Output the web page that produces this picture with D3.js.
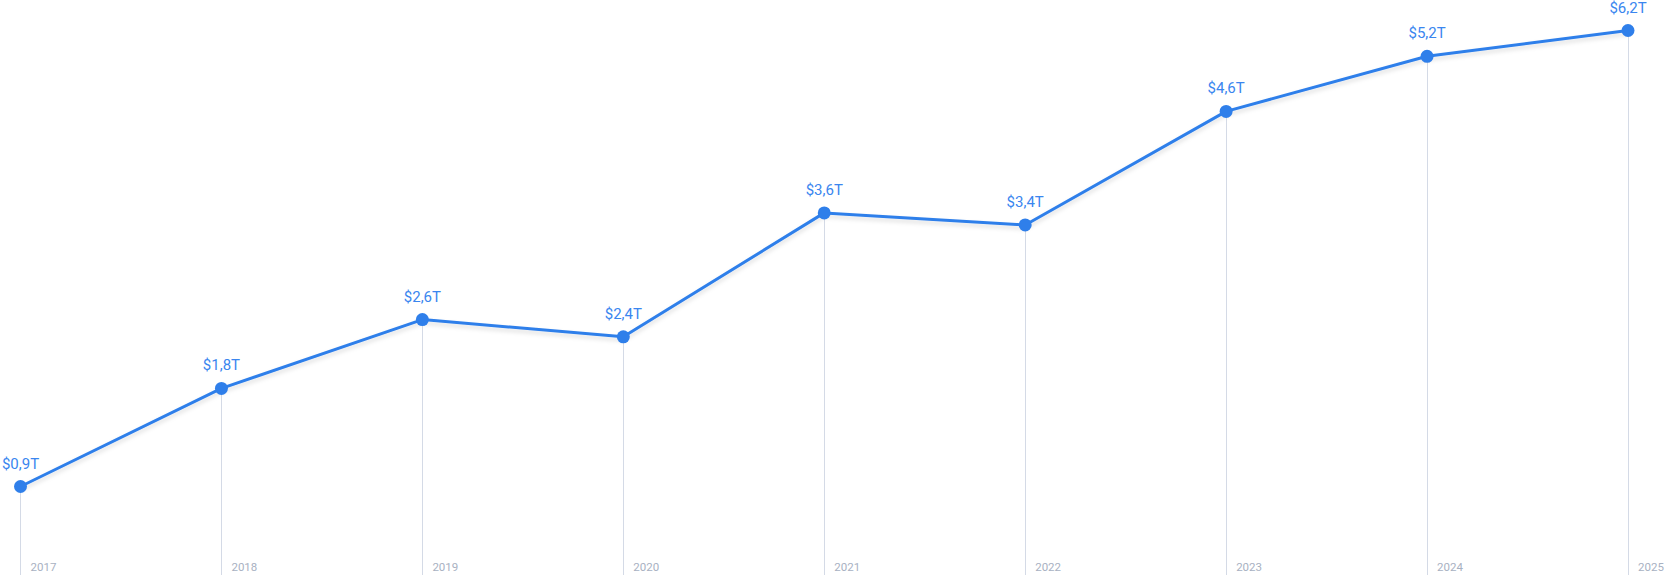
<!DOCTYPE html>
<html>
<head>
<meta charset="utf-8">
<script src="https://cdn.jsdelivr.net/npm/d3@7"></script>
<style>
  html, body { margin: 0; padding: 0; background: #fff; }
  svg { display: block; font-family: Roboto, "Open Sans", sans-serif; }
</style>
</head>
<body>
<svg id="chart"></svg>
<script>
var w = 1665,
    h = 575;

// data
var years = [2017, 2018, 2019, 2020, 2021, 2022, 2023, 2024, 2025];
var labels = ["$0,9T", "$1,8T", "$2,6T", "$2,4T", "$3,6T", "$3,4T", "$4,6T", "$5,2T", "$6,2T"];
// plotted heights (the picture does not place points proportionally to the labels)
var levels = [0.9, 2.04, 2.84, 2.64, 4.08, 3.94, 5.26, 5.90, 6.2];

var lineColor = "#2f7fea",
    labelColor = "#3a86ef",
    gridColor = "#d4dae6",
    yearColor = "#a8b1c2";

var x = d3.scaleLinear().domain([2017, 2025]).range([20.5, 1628]);
var y = d3.scaleLinear().domain([0.9, 6.2]).range([486.5, 30.5]);

var data = years.map(function(yr, i) {
  return { year: yr, label: labels[i], value: levels[i] };
});

var chart = d3.select("#chart")
  .attr("width", w)
  .attr("height", h);

var defs = chart.append("defs");
var f = defs.append("filter")
  .attr("id", "shadow")
  .attr("x", "-5%").attr("y", "-20%")
  .attr("width", "110%").attr("height", "140%");
f.append("feDropShadow")
  .attr("dx", 0)
  .attr("dy", 3)
  .attr("stdDeviation", 2)
  .attr("flood-color", "#000")
  .attr("flood-opacity", 0.13);

// vertical drop lines from each point to the bottom
chart.append("g").selectAll("line")
  .data(data)
  .enter().append("line")
  .attr("x1", function(d) { return x(d.year); })
  .attr("x2", function(d) { return x(d.year); })
  .attr("y1", function(d) { return y(d.value); })
  .attr("y2", h)
  .attr("stroke", gridColor)
  .attr("stroke-width", 1)
  .attr("shape-rendering", "crispEdges");

// year labels
chart.append("g").selectAll("text")
  .data(data)
  .enter().append("text")
  .attr("x", function(d) { return x(d.year) + 10; })
  .attr("y", 571)
  .attr("fill", yearColor)
  .style("font-size", "11.5px")
  .text(function(d) { return d.year; });

var line = d3.line()
  .x(function(d) { return x(d.year); })
  .y(function(d) { return y(d.value); });

chart.append("path")
  .datum(data)
  .attr("d", line)
  .attr("fill", "none")
  .attr("stroke", lineColor)
  .attr("stroke-width", 3)
  .attr("stroke-linejoin", "round")
  .attr("filter", "url(#shadow)");

chart.append("g").selectAll("circle")
  .data(data)
  .enter().append("circle")
  .attr("cx", function(d) { return x(d.year); })
  .attr("cy", function(d) { return y(d.value); })
  .attr("r", 6.5)
  .attr("fill", lineColor);

chart.append("g").selectAll("text")
  .data(data)
  .enter().append("text")
  .attr("x", function(d) { return x(d.year); })
  .attr("y", function(d) { return y(d.value) - 18; })
  .attr("text-anchor", "middle")
  .attr("fill", labelColor)
  .style("font-size", "15px")
  .text(function(d) { return d.label; });
</script>
</body>
</html>
